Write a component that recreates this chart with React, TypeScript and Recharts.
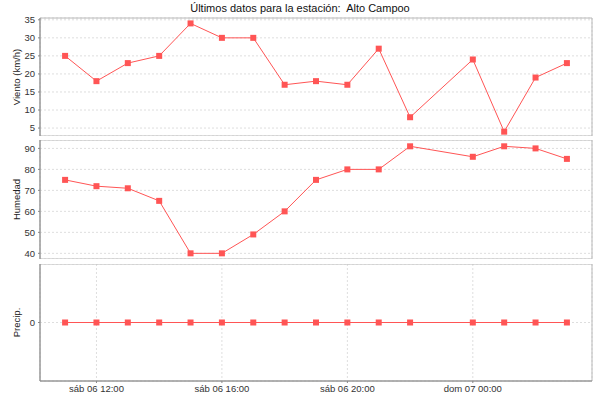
import React from 'react';
import { LineChart, Line, XAxis, YAxis, CartesianGrid, ReferenceArea } from 'recharts';

// hours counted from sáb 06 00:00 (23:00 is missing in the feed)
const hours = [11, 12, 13, 14, 15, 16, 17, 18, 19, 20, 21, 22, 24, 25, 26, 27];
const viento = [25, 18, 23, 25, 34, 30, 30, 17, 18, 17, 27, 8, 24, 4, 19, 23];
const humedad = [75, 72, 71, 65, 40, 40, 49, 60, 75, 80, 80, 91, 86, 91, 90, 85];
const precip = [0, 0, 0, 0, 0, 0, 0, 0, 0, 0, 0, 0, 0, 0, 0, 0];

const tickHours = [12, 16, 20, 24];
const tickLabels = ['sáb 06 12:00', 'sáb 06 16:00', 'sáb 06 20:00', 'dom 07 00:00'];
const vientoTicks = [5, 10, 15, 20, 25, 30, 35];
const humedadTicks = [40, 50, 60, 70, 80, 90];
const precipTicks = [0];

const data = hours.map((h, i) => ({
  h,
  viento: viento[i],
  humedad: humedad[i],
  precip: precip[i],
}));

const xDomain: [number, number] = [10.2, 27.8];
const FONT = '"Liberation Sans", Arial, sans-serif';
const RED = '#FF5555';

const Square = (props: any) => {
  const { cx, cy } = props;
  if (cx == null || cy == null) return null;
  return <rect x={cx - 3} y={cy - 3} width={6} height={6} fill={RED} />;
};

const YLabel = (props: any) => {
  const { viewBox, text } = props;
  const cy = viewBox.y + viewBox.height / 2;
  return (
    <text
      x={20}
      y={cy}
      transform={`rotate(-90, 20, ${cy})`}
      textAnchor="middle"
      fontSize={9.5}
      fontFamily={FONT}
      fill="#222"
    >
      {text}
    </text>
  );
};

interface PanelProps {
  dataKey: string;
  label: string;
  ticks: number[];
  domain: [number, number];
  top: number;
  height: number;
  marginTop?: number;
  showX?: boolean;
}

const Panel: React.FC<PanelProps> = ({ dataKey, label, ticks, domain, top, height, marginTop = 0, showX }) => (
  <div style={{ position: 'absolute', left: 0, top }}>
    <LineChart width={600} height={height} data={data} margin={{ top: marginTop, right: 8, bottom: 0, left: 0 }}>
      <CartesianGrid stroke="#dedede" strokeDasharray="2 2" />
      <ReferenceArea
        x1={xDomain[0]}
        x2={xDomain[1]}
        y1={domain[0]}
        y2={domain[1]}
        fill="none"
        stroke="#b8b8b8"
        strokeWidth={1}
      />
      <XAxis
        dataKey="h"
        type="number"
        domain={xDomain}
        ticks={tickHours}
        tickFormatter={(v: number) => tickLabels[tickHours.indexOf(v)]}
        height={showX ? 19 : 0}
        tick={showX ? { fontSize: 9.5, fontFamily: FONT, fill: '#333' } : false}
        tickLine={showX ? { stroke: '#888' } : false}
        axisLine={showX ? { stroke: '#888' } : false}
        tickSize={2}
        tickMargin={2}
        interval={0}
        allowDataOverflow
      />
      <YAxis
        type="number"
        domain={domain}
        ticks={ticks}
        width={40}
        interval={0}
        allowDataOverflow
        tick={{ fontSize: 9.5, fontFamily: FONT, fill: '#333' }}
        tickLine={{ stroke: '#888' }}
        axisLine={{ stroke: '#888' }}
        tickSize={2}
        tickMargin={3}
        label={<YLabel text={label} />}
      />
      <Line
        type="linear"
        dataKey={dataKey}
        stroke={RED}
        strokeWidth={1}
        dot={<Square />}
        activeDot={false}
        isAnimationActive={false}
      />
    </LineChart>
  </div>
);

export default function App() {
  return (
    <div
      style={{
        position: 'absolute',
        left: 0,
        top: 0,
        width: 600,
        height: 400,
        background: '#fff',
        fontFamily: FONT,
      }}
    >
      <div
        style={{
          position: 'absolute',
          left: 0,
          top: 1,
          width: 600,
          textAlign: 'center',
          fontSize: 11,
          lineHeight: '14px',
          color: '#111',
        }}
      >
        Últimos datos para la estación:&nbsp; Alto Campoo
      </div>
      <Panel dataKey="viento" label="Viento (km/h)" ticks={vientoTicks} domain={[2.8, 35.5]} top={0} height={136} marginTop={18} />
      <Panel dataKey="humedad" label="Humedad" ticks={humedadTicks} domain={[37.3, 94]} top={140} height={119} />
      <Panel dataKey="precip" label="Precip." ticks={precipTicks} domain={[-1, 1]} top={264} height={136} showX />
    </div>
  );
}
